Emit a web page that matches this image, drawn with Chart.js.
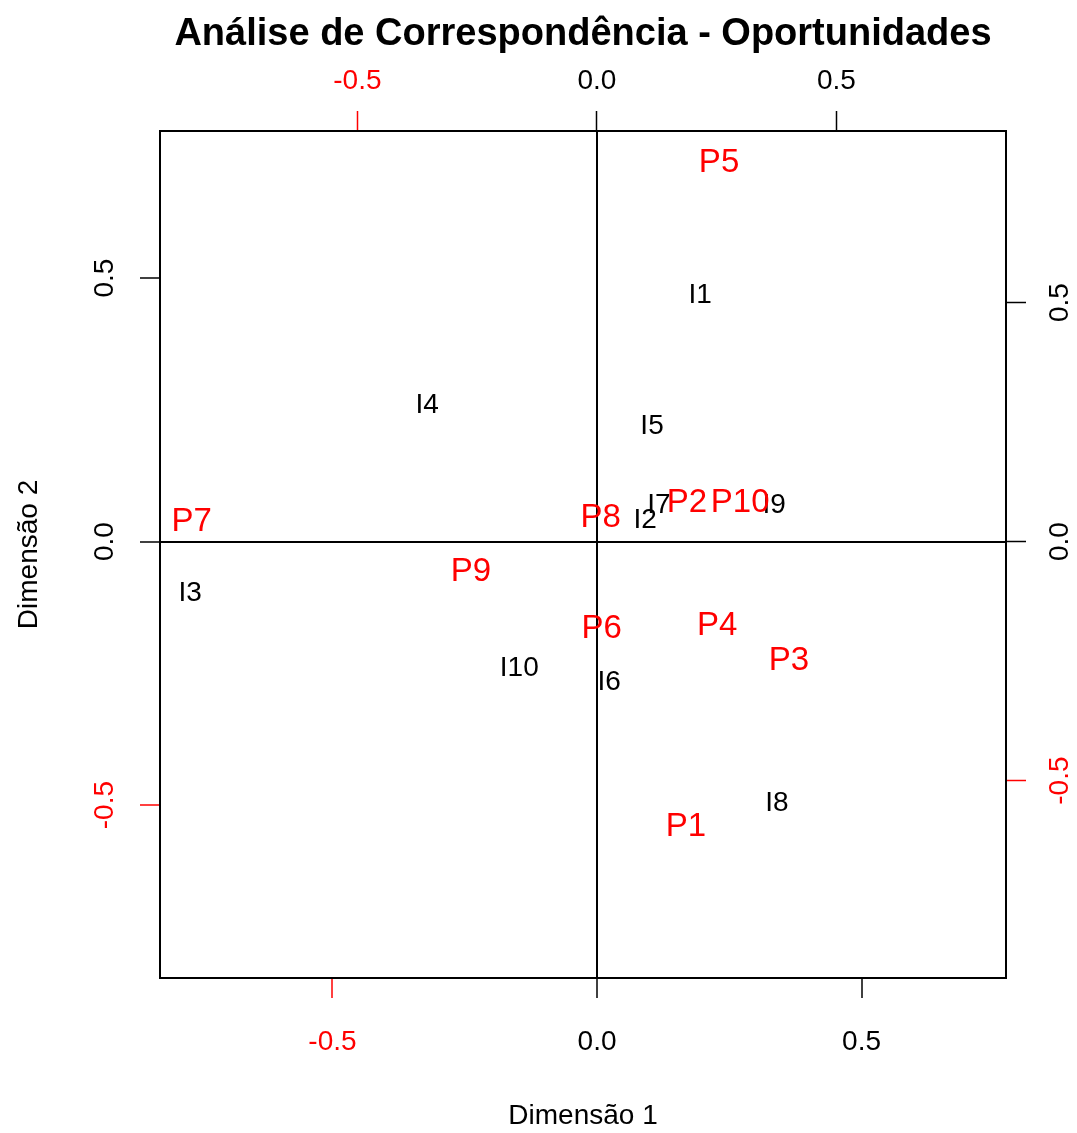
<!DOCTYPE html>
<html>
<head>
<meta charset="utf-8">
<script src="https://cdn.jsdelivr.net/npm/chart.js@4.4.1/dist/chart.umd.min.js"></script>
<style>
html,body{margin:0;padding:0;background:#fff;}
#wrap{width:1077px;height:1133px;position:relative;}
</style>
</head>
<body>
<div id="wrap"><canvas id="c" width="1077" height="1133"></canvas></div>
<script>
// Row points (black, bottom/left scale)
const iLabels = ['I1','I2','I3','I4','I5','I6','I7','I8','I9','I10'];
const iX = [0.195, 0.091, -0.769, -0.321, 0.104, 0.023, 0.117, 0.340, 0.335, -0.147];
const iY = [0.468, 0.041, -0.098, 0.259, 0.219, -0.267, 0.069, -0.496, 0.069, -0.240];

// Column points (red, top/right scale)
const pLabels = ['P1','P2','P3','P4','P5','P6','P7','P8','P9','P10'];
const pX = [0.186, 0.188, 0.401, 0.251, 0.255, 0.010, -0.846, 0.008, -0.263, 0.299];
const pY = [-0.597, 0.081, -0.250, -0.177, 0.792, -0.183, 0.041, 0.049, -0.064, 0.081];

const tickValues = [-0.5, 0, 0.5];
const titleText = 'Análise de Correspondência - Oportunidades';
const xTitle = 'Dimensão 1';
const yTitle = 'Dimensão 2';

const RED = '#ff0000';
const BLACK = '#000000';
const FONT = "'Liberation Sans', Arial, sans-serif";

function toPoints(xs, ys){ return xs.map((x,i)=>({x:x, y:ys[i]})); }

const tickCol = ctx => (ctx.tick && ctx.tick.value === -0.5) ? RED : BLACK;
const zeroGrid = ctx => (ctx.tick && ctx.tick.value === 0) ? BLACK : 'rgba(0,0,0,0)';
const setTicks = scale => { scale.ticks = tickValues.map(v => ({value: v})); };
const fmt = v => Number(v).toFixed(1);

const labelPlugin = {
  id: 'pointLabels',
  afterDatasetsDraw(chart){
    const ctx = chart.ctx;
    chart.data.datasets.forEach((ds, di) => {
      const meta = chart.getDatasetMeta(di);
      ctx.save();
      ctx.fillStyle = ds.labelColor;
      ctx.font = ds.labelFont;
      ctx.textAlign = 'center';
      ctx.textBaseline = 'middle';
      meta.data.forEach((el, i) => {
        ctx.fillText(ds.labels[i], el.x, el.y);
      });
      ctx.restore();
    });
  }
};

const TITLE_SIZE = 38;
const TITLE_H = TITLE_SIZE*1.2 + 12;

new Chart(document.getElementById('c'), {
  type: 'scatter',
  data: {
    datasets: [
      { data: toPoints(iX, iY), labels: iLabels, labelColor: BLACK,
        labelFont: "28px " + FONT, xAxisID: 'x', yAxisID: 'y', pointRadius: 0, pointHoverRadius: 0 },
      { data: toPoints(pX, pY), labels: pLabels, labelColor: RED,
        labelFont: "33px " + FONT, xAxisID: 'x2', yAxisID: 'y2', pointRadius: 0, pointHoverRadius: 0 }
    ]
  },
  options: {
    responsive: false,
    animation: false,
    events: [],
    layout: { padding: 0 },
    plugins: {
      legend: { display: false },
      tooltip: { enabled: false },
      title: { display: true, text: titleText, color: BLACK, fullSize: false,
        font: { family: FONT, size: TITLE_SIZE, weight: 'bold', lineHeight: 1.2 },
        padding: { top: 12, bottom: 0 } }
    },
    scales: {
      x: {
        type: 'linear', position: 'bottom', min: -0.826, max: 0.773,
        afterBuildTicks: setTicks,
        afterFit: s => { s.height = 155; },
        border: { display: true, color: BLACK, width: 2 },
        grid: { drawOnChartArea: true, color: zeroGrid, lineWidth: 2, tickLength: 20, tickColor: tickCol, tickWidth: 1.5 },
        ticks: { color: tickCol, callback: fmt, font: { family: FONT, size: 28 }, padding: 27, maxRotation: 0, minRotation: 0 },
        title: { display: true, text: xTitle, color: BLACK, font: { family: FONT, size: 28 }, padding: { top: 0, bottom: 0 } }
      },
      x2: {
        type: 'linear', position: 'top', min: -0.912, max: 0.854,
        afterBuildTicks: setTicks,
        afterFit: s => { s.height = 131 - TITLE_H; },
        border: { display: true, color: BLACK, width: 2 },
        grid: { drawOnChartArea: false, tickLength: 20, tickColor: tickCol, tickWidth: 1.5 },
        ticks: { color: tickCol, callback: fmt, font: { family: FONT, size: 28 }, padding: 13, maxRotation: 0, minRotation: 0 }
      },
      y: {
        type: 'linear', position: 'left', min: -0.828, max: 0.779,
        afterBuildTicks: setTicks,
        afterFit: s => { s.width = 160; },
        border: { display: true, color: BLACK, width: 2 },
        grid: { drawOnChartArea: true, color: zeroGrid, lineWidth: 2, tickLength: 20, tickColor: tickCol, tickWidth: 1.5 },
        ticks: { color: tickCol, callback: fmt, font: { family: FONT, size: 28 }, padding: 11, minRotation: 90, maxRotation: 90, crossAlign: 'center' },
        title: { display: true, text: yTitle, color: BLACK, font: { family: FONT, size: 28 }, padding: { top: 12, bottom: 0 } }
      },
      y2: {
        type: 'linear', position: 'right', min: -0.913, max: 0.859,
        afterBuildTicks: setTicks,
        afterFit: s => { s.width = 71; },
        border: { display: true, color: BLACK, width: 2 },
        grid: { drawOnChartArea: false, tickLength: 20, tickColor: tickCol, tickWidth: 1.5 },
        ticks: { color: tickCol, callback: fmt, font: { family: FONT, size: 28 }, padding: 10, minRotation: 90, maxRotation: 90, crossAlign: 'center' }
      }
    }
  },
  plugins: [labelPlugin]
});
</script>
</body>
</html>
